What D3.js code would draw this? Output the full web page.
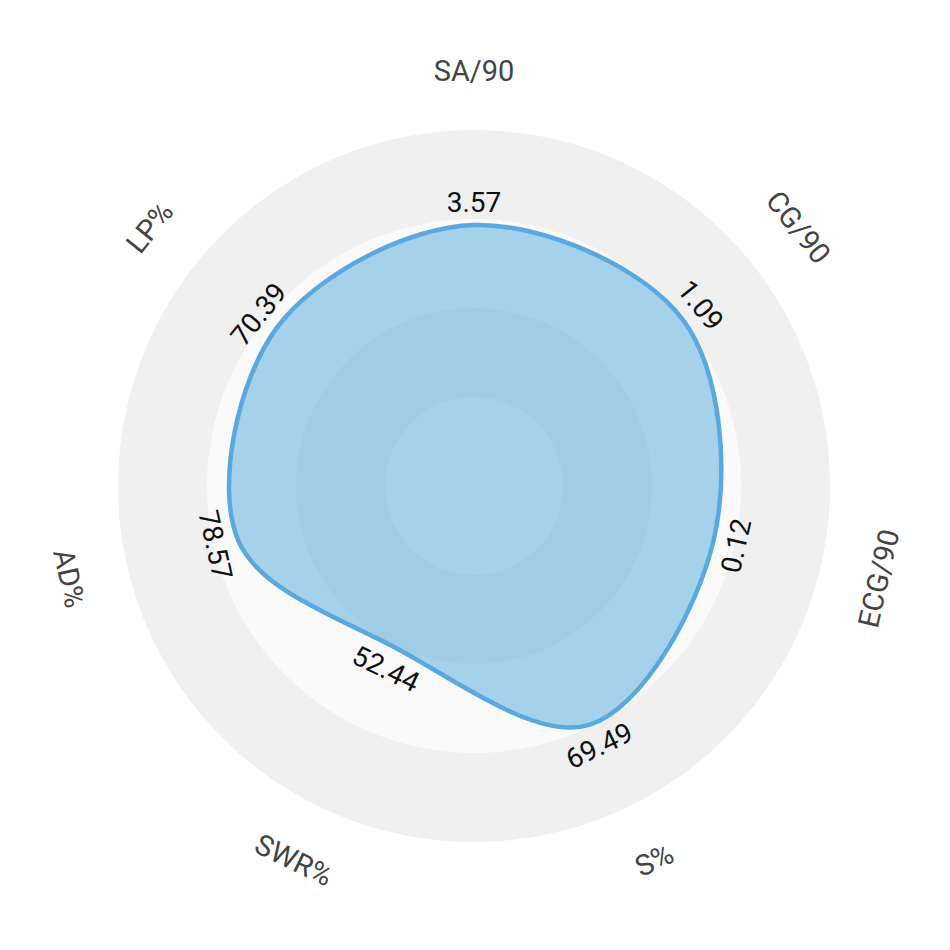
<!DOCTYPE html>
<html lang="en">
<head>
  <meta charset="UTF-8">
  <title>Radar</title>
  <style>
    body {
      margin: 0;
      padding: 0;
      background-color: #fff;
      font-family: Roboto, sans-serif;
    }

    .axis-label {
      font-size: 29px;
      fill: #444;
    }

    .value-label {
      font-size: 28px;
      fill: #111;
    }

    .area {
      fill: #61aedd;
      fill-opacity: 0.55;
      stroke: #5aa8e0;
      stroke-width: 4.5px;
    }
  </style>
</head>
<body>
  <div class="chart"></div>

  <script src="https://d3js.org/d3.v7.min.js"></script>
  <script>
    const axes = ["SA/90", "CG/90", "ECG/90", "S%", "SWR%", "AD%", "LP%"];
    const values = [3.57, 1.09, 0.12, 69.49, 52.44, 78.57, 70.39];
    // position of each value on its axis, 0-100
    const ranks = [73.3, 75, 69, 74.5, 50.5, 68, 71];
    const rings = [100, 75, 50, 25];

    const W = 950, H = 950;
    const cx = 474, cy = 486;
    const radius = 356;

    const svg = d3.select(".chart")
      .append("svg")
        .attr("width", W)
        .attr("height", H)
      .append("g")
        .attr("transform", `translate(${cx},${cy})`);

    const r = d3.scaleLinear().domain([0, 100]).range([0, radius]);
    const angle = d3.scaleLinear().domain([0, axes.length]).range([0, 2 * Math.PI]);

    // background bands
    svg.selectAll(".ring")
      .data(rings)
      .join("circle")
        .attr("class", "ring")
        .attr("r", d => r(d))
        .attr("fill", (d, i) => i % 2 === 0 ? "#f0f0f0" : "#fafafa");

    // shape
    const data = ranks.map((v, i) => ({ i, v }));
    const line = d3.lineRadial()
      .angle(d => angle(d.i))
      .radius(d => r(d.v))
      .curve(d3.curveCatmullRomClosed);

    svg.append("path")
      .datum(data)
      .attr("class", "area")
      .attr("d", line);

    function rot(i) {
      const deg = i * 360 / axes.length;
      return (deg > 90 && deg < 270) ? deg - 180 : deg;
    }

    function pos(i, rad) {
      const a = angle(i);
      return [Math.sin(a) * rad, -Math.cos(a) * rad];
    }

    // value labels
    svg.selectAll(".value-label")
      .data(data)
      .join("text")
        .attr("class", "value-label")
        .attr("text-anchor", "middle")
        .attr("dy", "0.35em")
        .attr("transform", d => {
          const [x, y] = pos(d.i, r(d.v) + 23);
          return `translate(${x},${y}) rotate(${rot(d.i)})`;
        })
        .text(d => values[d.i].toFixed(2));

    // axis labels
    svg.selectAll(".axis-label")
      .data(axes)
      .join("text")
        .attr("class", "axis-label")
        .attr("text-anchor", "middle")
        .attr("dy", "0.35em")
        .attr("transform", (d, i) => {
          const [x, y] = pos(i, 415);
          return `translate(${x},${y}) rotate(${rot(i)})`;
        })
        .text(d => d);
  </script>
</body>
</html>
